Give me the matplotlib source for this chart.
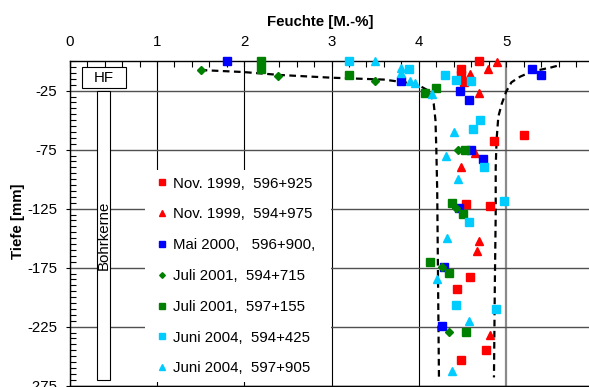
import matplotlib
matplotlib.use('Agg')
import matplotlib.pyplot as plt
from matplotlib.ticker import MultipleLocator
from matplotlib.patches import Rectangle

plt.rcParams['font.family'] = ['Liberation Sans', 'DejaVu Sans']
plt.rcParams['font.size'] = 10.8

# ---------------- data ----------------
x_ticks = [0, 1, 2, 3, 4, 5, 6]
x_ticklabels = ['0', '1', '2', '3', '4', '5', '6']
y_ticks = [-25, -75, -125, -175, -225, -275]
y_ticklabels = ['-25', '-75', '-125', '-175', '-225', '-275']

labels = ['Nov. 1999,  596+925', 'Nov. 1999,  594+975', 'Mai 2000,   596+900,',
          'Juli 2001,  594+715', 'Juli 2001,  597+155', 'Juni 2004,  594+425',
          'Juni 2004,  597+905']

nov99a_x = [4.69, 4.48, 4.48, 4.52, 5.20, 4.86, 4.54, 4.82, 4.59, 4.44, 4.77, 4.48]
nov99a_y = [0, -7, -12, -18, -62.5, -67.6, -121.3, -122.7, -182.6, -193.3, -244.7, -253.2]

nov99b_x = [4.89, 4.79, 4.59, 4.69, 4.64, 4.48, 4.69, 4.67, 4.82]
nov99b_y = [-0.4, -6.9, -11.1, -27.2, -77.5, -89.4, -152, -160.6, -232]

mai00_x = [1.80, 3.80, 4.47, 4.57, 5.30, 5.40, 4.60, 4.73, 4.46, 4.29, 4.27]
mai00_y = [0, -17, -25, -32.9, -6.6, -11.7, -75.3, -83.1, -124.7, -174.7, -224.4]

juli01a_x = [1.50, 2.39, 3.50, 4.45, 4.42, 4.26, 4.34]
juli01a_y = [-7.2, -12.3, -16.5, -75.0, -124.7, -174.7, -229.7]

juli01b_x = [2.19, 2.19, 3.20, 4.07, 4.20, 4.53, 4.38, 4.50, 4.13, 4.34, 4.54]
juli01b_y = [0, -6.9, -11.4, -26.7, -23, -75.3, -119.9, -129.7, -169.9, -179.2, -229.7]

juni04a_x = [3.20, 3.89, 4.30, 4.43, 4.60, 4.70, 4.62, 4.75, 4.98, 4.57, 4.43, 4.88]
juni04a_y = [0, -6.6, -11.7, -16, -16.8, -49.5, -57.3, -89.9, -118.5, -136, -206.6, -210]

juni04b_x = [3.50, 3.79, 3.79, 3.90, 3.95, 4.15, 4.40, 4.31, 4.45, 4.32, 4.21, 4.57, 4.38]
juni04b_y = [0, -6, -10, -16.5, -18.7, -28, -60, -80.3, -100, -150, -184.8, -220.2, -262.5]

env_left_x = [1.50, 1.99, 2.41, 3.00, 3.60, 3.97, 4.13, 4.17, 4.19, 4.20, 4.21, 4.22, 4.23]
env_left_y = [-7.5, -9.2, -11.7, -14.0, -15.6, -19.3, -25.8, -36, -50, -75, -110, -190, -268]
env_right_x = [5.58, 5.52, 5.29, 5.16, 5.06, 5.00, 4.95, 4.91, 4.89, 4.88, 4.88, 4.87, 4.86]
env_right_y = [-4, -5.2, -8.9, -13.1, -17.9, -25.8, -36, -47, -66.8, -90, -130, -190, -268]

# ---------------- figure ----------------
fig = plt.figure(figsize=(5.89, 3.87), dpi=100)
ax = fig.add_axes([0.1183, 0.0034, 0.8893, 0.8385])
ax.set_xlim(0, 6)
ax.set_ylim(-275, 0)

ax.xaxis.tick_top()
ax.xaxis.set_label_position('top')
ax.set_xticks(x_ticks)
ax.set_xticklabels(x_ticklabels)
ax.xaxis.set_minor_locator(MultipleLocator(0.2))
ax.set_yticks(y_ticks)
ax.set_yticklabels(y_ticklabels)
ax.yaxis.set_minor_locator(MultipleLocator(5))
ax.tick_params(axis='x', which='major', direction='in', length=4, pad=9, width=0.8)
ax.tick_params(axis='x', which='minor', direction='in', length=4, width=0.8, top=True, bottom=False)
ax.tick_params(axis='y', which='major', direction='out', length=3, pad=6, width=0.8)
ax.tick_params(axis='y', which='minor', direction='in', length=4, width=0.8)

ax.grid(True, which='major', axis='y', color='#505050', lw=1.0, zorder=0)
ax.grid(True, which='major', axis='x', color='black', lw=0.8, zorder=0)
gl = ax.get_xgridlines()
gl[5].set_color('#8a8a8a')
gl[5].set_linewidth(1.6)
ax.set_axisbelow(True)

for s in ['top', 'left', 'bottom']:
    ax.spines[s].set_linewidth(1.0)
ax.spines['right'].set_visible(False)

# boxes
ax.add_patch(Rectangle((0.137, -23), 0.504, 17.8, facecolor='white', edgecolor='black', lw=0.8, zorder=2))
ax.text(0.39, -14.2, 'HF', ha='center', va='center', zorder=3)
ax.add_patch(Rectangle((0.309, -270.2), 0.156, 245.2, facecolor='white', edgecolor='black', lw=0.8, zorder=2))
ax.text(0.39, -147.5, 'Bohrkerne', ha='center', va='center', rotation=90, zorder=3)

# envelopes
dash = (0, (3, 2))
ax.plot(env_left_x, env_left_y, color='black', lw=1.6, linestyle=dash, zorder=3)
ax.plot(env_right_x, env_right_y, color='black', lw=1.6, linestyle=dash, zorder=3)

red = '#ff0000'
blue = '#0000ff'
green = '#008000'
cyan = '#00ccff'

kw = dict(linestyle='none', clip_on=False, zorder=4)
h1, = ax.plot(nov99a_x, nov99a_y, marker='s', ms=5.4, color=red, label=labels[0], **kw)
h2, = ax.plot(nov99b_x, nov99b_y, marker='^', ms=6, color=red, label=labels[1], **kw)
h3, = ax.plot(mai00_x, mai00_y, marker='s', ms=5.4, color=blue, label=labels[2], **kw)
h4, = ax.plot(juli01a_x, juli01a_y, marker='D', ms=4, color=green, label=labels[3], **kw)
h5, = ax.plot(juli01b_x, juli01b_y, marker='s', ms=5.4, color=green, label=labels[4], **kw)
h6, = ax.plot(juni04a_x, juni04a_y, marker='s', ms=5.4, color=cyan, label=labels[5], **kw)
h7, = ax.plot(juni04b_x, juni04b_y, marker='^', ms=6, color=cyan, label=labels[6], **kw)

leg = ax.legend(handles=[h1, h2, h3, h4, h5, h6, h7], loc='upper left',
                bbox_to_anchor=(0.144, 0.018, 0.355, 0.647), mode='expand',
                borderaxespad=0, frameon=True, facecolor='white', edgecolor='none',
                framealpha=1, fancybox=False, markerscale=0.72, handlelength=1.3,
                handletextpad=0.08, labelspacing=1.12, borderpad=0.45, fontsize=10.8)
leg.set_zorder(5)

ax.set_xlabel('Feuchte [M.-%]', fontweight='bold')
ax.xaxis.set_label_coords(0.478, 1.121)
ax.xaxis.label.set_va('center')
ax.set_ylabel('Tiefe [mm]', fontweight='bold')
ax.yaxis.set_label_coords(-0.0987, 0.508)
ax.yaxis.label.set_va('center')

fig.savefig('out.png', dpi=100)
